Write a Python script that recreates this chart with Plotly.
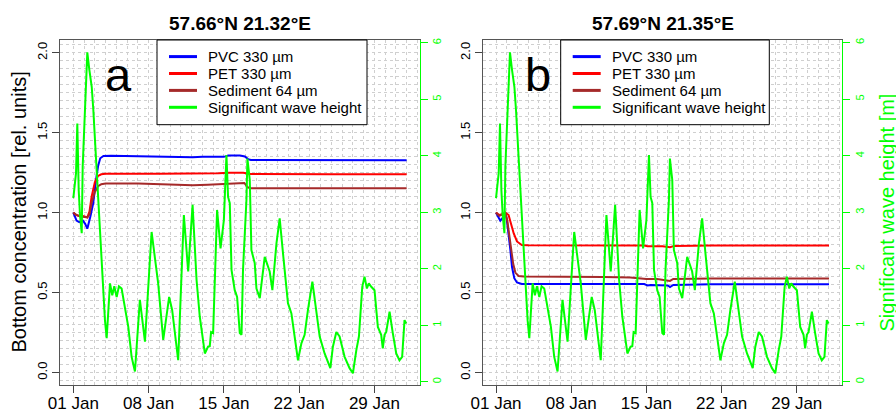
import plotly.graph_objects as go

# ---- time axis: days since 01 Jan ----
tick_days = [0, 7, 14, 21, 28]
tick_labels = ["01 Jan", "08 Jan", "15 Jan", "22 Jan", "29 Jan"]
grid_days = list(range(0, 33))

# ---- significant wave height [m] (same forcing for both sites) ----
wave_day = [0.00, 0.16, 0.25, 0.37, 0.50, 0.62, 0.78, 0.87, 1.09, 1.30,
            1.49, 1.71, 1.86, 2.11, 2.32, 2.48, 2.64, 2.79, 2.94, 3.10,
            3.41, 3.62, 3.81, 4.03, 4.24, 4.49, 4.80, 5.11, 5.42, 5.73,
            6.19, 6.66, 7.28, 7.89, 8.36, 8.91, 9.19, 9.75, 10.28, 10.68,
            11.09, 11.46, 11.76, 12.23, 12.53, 12.69, 12.81, 13.00, 13.37, 13.69,
            14.00, 14.24, 14.39, 14.55, 14.71, 15.01, 15.23, 15.48, 15.64, 15.78,
            16.10, 16.19, 16.41, 16.56, 16.87, 17.03, 17.34, 17.80, 18.26, 18.51,
            18.89, 19.19, 19.50, 19.96, 20.28, 20.59, 20.89, 21.21, 21.51, 21.82,
            22.23, 22.54, 22.91, 23.37, 23.90, 24.14, 24.46, 24.76, 25.23, 25.69,
            26.00, 26.32, 26.56, 26.87, 27.08, 27.30, 27.48, 27.71, 28.01, 28.32,
            28.63, 28.78, 28.94, 29.10, 29.41, 29.71, 30.03, 30.33, 30.58, 30.80,
            30.96]
wave_height = [3.25, 3.57, 3.69, 4.57, 3.39, 2.95, 2.63, 3.81, 4.99, 5.83,
               5.52, 5.22, 4.81, 3.92, 3.10, 2.51, 2.15, 1.62, 1.09, 0.77,
               1.74, 1.53, 1.69, 1.50, 1.69, 1.65, 1.33, 0.97, 0.44, 0.18,
               1.45, 0.71, 2.65, 1.74, 0.74, 1.50, 1.27, 0.38, 2.95, 1.95,
               3.13, 1.80, 1.15, 0.50, 0.62, 0.63, 0.88, 0.86, 3.04, 2.36,
               2.86, 4.01, 3.27, 3.16, 1.98, 1.62, 1.50, 0.86, 0.83, 1.98,
               3.22, 3.95, 3.57, 2.33, 2.10, 1.65, 1.48, 2.21, 1.95, 1.62,
               2.45, 2.89, 2.27, 1.39, 1.21, 0.74, 0.38, 0.68, 0.83, 1.27,
               1.77, 1.33, 0.80, 0.50, 0.24, 0.62, 0.88, 0.80, 0.44, 0.24,
               0.15, 0.56, 0.80, 1.68, 1.86, 1.65, 1.74, 1.68, 1.62, 0.97,
               0.83, 0.59, 0.83, 0.88, 1.24, 0.86, 0.50, 0.38, 0.44, 1.09,
               1.03]

# ---- site a: 57.66N 21.32E, bottom concentrations [rel. units] ----
pvc_a_day = [0, 0.3, 0.55, 0.9, 1.1, 1.3, 1.6, 1.85, 2.1, 2.3, 2.5, 2.8, 3.5,
             6.0, 8.0, 10.5, 11.1, 12.0, 14.0, 14.4, 15.5, 15.95, 16.25, 16.5,
             20.0, 25.0, 31.0]
pvc_a = [1.0, 0.95, 0.94, 0.95, 0.93, 0.90, 0.98, 1.06, 1.20, 1.29, 1.34, 1.355,
         1.356, 1.353, 1.35, 1.35, 1.346, 1.35, 1.349, 1.357, 1.357, 1.352, 1.335,
         1.33, 1.33, 1.329, 1.328]
pet_a_day = [0, 0.25, 0.5, 0.8, 1.1, 1.3, 1.5, 1.7, 2.0, 2.3, 2.6, 3.0, 8.0,
             12.0, 13.5, 14.5, 15.8, 16.2, 16.5, 24.0, 31.0]
pet_a = [1.0, 0.986, 0.98, 0.98, 0.975, 0.97, 1.006, 1.10, 1.19, 1.23, 1.24,
         1.243, 1.243, 1.244, 1.246, 1.25, 1.25, 1.245, 1.242, 1.241, 1.24]
sed_a_day = [0, 0.3, 0.6, 1.0, 1.3, 1.5, 1.7, 2.0, 2.3, 2.6, 3.0, 6.0, 9.0,
             11.1, 12.5, 14.5, 15.5, 15.9, 16.2, 16.5, 22.0, 31.0]
sed_a = [1.0, 0.985, 0.978, 0.975, 0.97, 0.99, 1.06, 1.13, 1.165, 1.178, 1.182,
         1.182, 1.178, 1.171, 1.175, 1.18, 1.186, 1.186, 1.16, 1.153, 1.152, 1.152]

# ---- site b: 57.69N 21.35E ----
pvc_b_day = [0, 0.24, 0.4, 0.6, 0.87, 1.0, 1.17, 1.33, 1.49, 1.7, 1.95, 2.4,
             5.0, 10.0, 13.8, 14.1, 14.4, 16.0, 16.2, 16.5, 20.0, 31.0]
pvc_b = [1.0, 0.975, 0.95, 0.965, 1.0, 0.96, 0.87, 0.77, 0.66, 0.59, 0.563,
         0.554, 0.554, 0.553, 0.553, 0.545, 0.548, 0.545, 0.535, 0.548, 0.552, 0.552]
pet_b_day = [0, 0.3, 0.6, 0.87, 1.17, 1.4, 1.65, 1.95, 2.4, 3.0, 10.0, 13.8,
             14.1, 15.5, 16.2, 16.6, 20.0, 31.0]
pet_b = [1.0, 0.985, 0.99, 1.0, 0.985, 0.93, 0.87, 0.82, 0.798, 0.796, 0.796,
         0.795, 0.79, 0.79, 0.784, 0.792, 0.794, 0.794]
sed_b_day = [0, 0.3, 0.6, 0.87, 1.05, 1.17, 1.33, 1.6, 1.8, 2.1, 2.6, 5.0, 10.0,
             12.5, 14.0, 15.0, 16.0, 16.2, 16.5, 20.0, 31.0]
sed_b = [1.0, 0.98, 0.99, 1.0, 0.95, 0.89, 0.81, 0.68, 0.625, 0.604, 0.60, 0.60,
         0.598, 0.595, 0.585, 0.585, 0.578, 0.573, 0.585, 0.588, 0.588]

series_names = ["PVC 330 µm", "PET 330 µm", "Sediment 64 µm", "Significant wave height"]

BLUE, RED, BROWN, GREEN = "#0000ff", "#ff0000", "#a52a2a", "#00ff00"
series_colors = [BLUE, RED, BROWN, GREEN]
FONT = "Liberation Sans, Arial, sans-serif"
W, H = 896, 412


def fx(px):
    return px / W


def fy(py):
    return 1 - py / H


panels = [
    dict(title="57.66°N 21.32°E", letter="a", left=60, right=420,
         letter_x=118, legend_box=(157, 367),
         xa="x", ya="y", yw="y2",
         series=[(pvc_a_day, pvc_a), (pet_a_day, pet_a), (sed_a_day, sed_a)]),
    dict(title="57.69°N 21.35°E", letter="b", left=482.7, right=842.3,
         letter_x=538, legend_box=(560.7, 769.3),
         xa="x2", ya="y3", yw="y4",
         series=[(pvc_b_day, pvc_b), (pet_b_day, pet_b), (sed_b_day, sed_b)]),
]

fig = go.Figure()
top, bottom = 40, 385
ydom = [fy(bottom), fy(top)]
annotations, shapes = [], []
GRID = dict(gridcolor="#cfcfcf", griddash="dot", gridwidth=1)

for i, p in enumerate(panels):
    for (d, v), nm, c in zip(p["series"], series_names, series_colors):
        fig.add_trace(go.Scatter(x=d, y=v, mode="lines", name=nm,
                                 line=dict(color=c, width=2),
                                 xaxis=p["xa"], yaxis=p["ya"], showlegend=False))
    fig.add_trace(go.Scatter(x=wave_day, y=wave_height, mode="lines",
                             name=series_names[3], line=dict(color=GREEN, width=2),
                             xaxis=p["xa"], yaxis=p["yw"], showlegend=False))

    sfx = "" if i == 0 else "2"
    ysfx_c = "" if i == 0 else "3"
    ysfx_w = "2" if i == 0 else "4"
    xdom = [fx(p["left"]), fx(p["right"])]

    fig.update_layout(**{
        "xaxis" + sfx: dict(
            domain=xdom, anchor=p["ya"], range=[-1.24, 32.24], automargin=False,
            tickmode="array", tickvals=tick_days, ticktext=tick_labels,
            ticks="outside", ticklen=7, tickcolor="#444", ticklabelstandoff=-4,
            tickfont=dict(size=17, color="black", family=FONT),
            showline=True, linecolor="#555", linewidth=1, mirror=True,
            showgrid=True, **GRID,
            minor=dict(tickmode="array", tickvals=grid_days, showgrid=True, ticks="", **GRID),
            zeroline=False),
        "yaxis" + ysfx_c: dict(
            domain=ydom, anchor=p["xa"], range=[-0.078, 2.08], automargin=False,
            tickmode="linear", tick0=0, dtick=0.5, tickformat=".1f",
            tickangle=-90, ticks="outside", ticklen=7, tickcolor="#444",
            tickfont=dict(size=13, color="black", family=FONT),
            showline=True, linecolor="#555", linewidth=1, mirror=True,
            showgrid=True, **GRID,
            minor=dict(dtick=0.05, showgrid=True, ticks="", **GRID),
            zeroline=False),
        "yaxis" + ysfx_w: dict(
            overlaying=p["ya"], anchor=p["xa"], side="right", automargin=False,
            range=[-0.058, 6.048], tickmode="linear", tick0=0, dtick=1,
            tickangle=-90, ticks="outside", ticklen=7, tickcolor=GREEN,
            tickfont=dict(size=11, color=GREEN, family=FONT),
            showline=True, linecolor=GREEN, linewidth=1,
            showgrid=False, zeroline=False),
    })

    # panel title and letter
    cx = (p["left"] + p["right"]) / 2
    annotations.append(dict(text="<b>" + p["title"] + "</b>", x=fx(cx), y=fy(24),
                            xref="paper", yref="paper", xanchor="center", yanchor="middle",
                            showarrow=False, font=dict(size=19, color="black", family=FONT)))
    annotations.append(dict(text=p["letter"], x=fx(p["letter_x"]), y=fy(74),
                            xref="paper", yref="paper", xanchor="center", yanchor="middle",
                            showarrow=False, font=dict(size=47, color="black", family=FONT)))

    # legend box
    lx0, lx1 = p["legend_box"]
    shapes.append(dict(type="rect", xref="paper", yref="paper",
                       x0=fx(lx0), x1=fx(lx1), y0=fy(124.7), y1=fy(top),
                       line=dict(color="black", width=1), fillcolor="white", layer="above"))
    for k, (nm, c) in enumerate(zip(series_names, series_colors)):
        ry = 56.6 + k * 16.9
        shapes.append(dict(type="line", xref="paper", yref="paper",
                           x0=fx(lx0 + 12), x1=fx(lx0 + 40), y0=fy(ry), y1=fy(ry),
                           line=dict(color=c, width=3), layer="above"))
        annotations.append(dict(text=nm, x=fx(lx0 + 49), y=fy(ry),
                                xref="paper", yref="paper", xanchor="left", yanchor="middle",
                                showarrow=False, font=dict(size=15, color="black", family=FONT)))

annotations.append(dict(text="Bottom concentration [rel. units]", x=fx(18), y=fy(212.5),
                        xref="paper", yref="paper", xanchor="center", yanchor="middle",
                        showarrow=False, textangle=-90,
                        font=dict(size=20, color="black", family=FONT)))
annotations.append(dict(text="Significant wave height [m]", x=fx(886), y=fy(212.5),
                        xref="paper", yref="paper", xanchor="center", yanchor="middle",
                        showarrow=False, textangle=-90,
                        font=dict(size=20, color=GREEN, family=FONT)))

fig.update_layout(
    width=W, height=H,
    margin=dict(l=0, r=0, t=0, b=0, autoexpand=False),
    paper_bgcolor="white", plot_bgcolor="white",
    font=dict(family=FONT, color="black"),
    showlegend=False,
    annotations=annotations,
    shapes=shapes,
)

fig.write_html("out.html", config={"displayModeBar": False})
